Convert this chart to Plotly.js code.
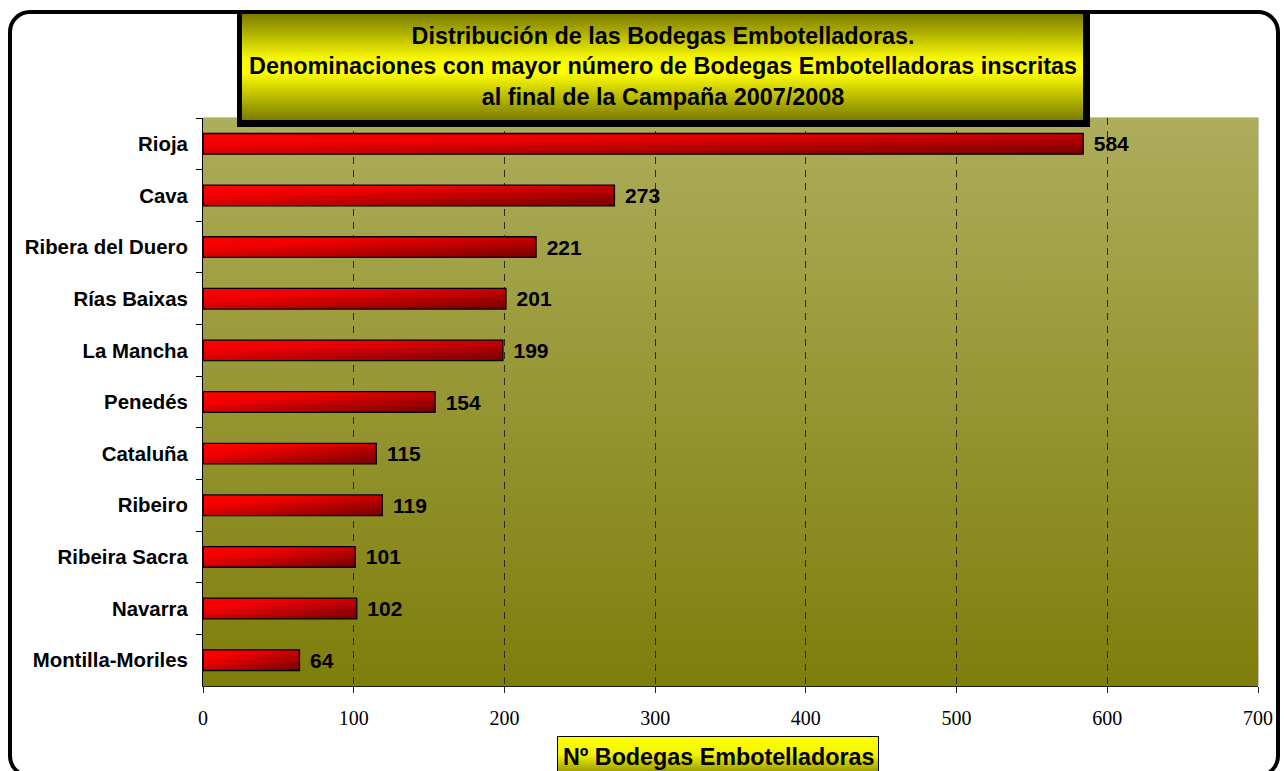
<!DOCTYPE html>
<html>
<head>
<meta charset="utf-8">
<script src="https://cdn.plot.ly/plotly-3.0.1.min.js"></script>
<style>
  html, body { margin: 0; padding: 0; background: #fff; overflow: hidden; }
  #chart { position: absolute; left: 0; top: 0; width: 1284px; height: 771px; }
  #frame {
    position: absolute; left: 8px; top: 10px; width: 1272px; height: 768px;
    box-sizing: border-box; border: 4px solid #000; border-radius: 22px;
    pointer-events: none;
  }
</style>
</head>
<body>
<div id="chart"></div>
<div id="frame"></div>
<script>
  // denominaciones, de arriba a abajo
  var denominaciones = [
    "Rioja",
    "Cava",
    "Ribera del Duero",
    "Rías Baixas",
    "La Mancha",
    "Penedés",
    "Cataluña",
    "Ribeiro",
    "Ribeira Sacra",
    "Navarra",
    "Montilla-Moriles"
  ];
  var bodegas = [584, 273, 221, 201, 199, 154, 115, 119, 101, 102, 64];
  var xTicks = [0, 100, 200, 300, 400, 500, 600, 700];

  var titulo = "Distribución de las Bodegas Embotelladoras.<br>" +
    "Denominaciones con mayor número de Bodegas Embotelladoras inscritas<br>" +
    "al final de la Campaña 2007/2008";
  var tituloEje = "Nº Bodegas Embotelladoras";

  // plot area in pixels: x 203..1258, y 118..686
  var px = function(x) { return (x - 203) / 1055; };
  var py = function(y) { return (686 - y) / 568; };

  function svgUri(w, h, body) {
    return "data:image/svg+xml;charset=utf-8," + encodeURIComponent(
      '<svg xmlns="http://www.w3.org/2000/svg" width="' + w + '" height="' + h +
      '" viewBox="0 0 ' + w + ' ' + h + '" preserveAspectRatio="none">' + body + '</svg>');
  }

  var plotBg = svgUri(100, 100,
    '<defs><linearGradient id="g" x1="0" y1="0" x2="0" y2="1">' +
    '<stop offset="0" stop-color="#adad5b"/><stop offset="1" stop-color="#7e7e0c"/>' +
    '</linearGradient></defs><rect width="100" height="100" fill="url(#g)"/>');

  var titleBox = svgUri(853, 117,
    '<defs><linearGradient id="g" x1="0" y1="0" x2="0" y2="1">' +
    '<stop offset="0" stop-color="#7b7b00"/><stop offset="0.42" stop-color="#f8f800"/>' +
    '<stop offset="0.55" stop-color="#ffff00"/>' +
    '<stop offset="1" stop-color="#7b7b00"/></linearGradient></defs>' +
    '<rect width="853" height="117" fill="#000"/>' +
    '<rect x="5" y="4" width="841" height="106" fill="url(#g)"/>');

  var axisBox = svgUri(322, 40,
    '<defs><linearGradient id="g" x1="0" y1="0" x2="0" y2="1">' +
    '<stop offset="0" stop-color="#ffff00"/><stop offset="0.45" stop-color="#f4f400"/>' +
    '<stop offset="1" stop-color="#8c8c00"/></linearGradient></defs>' +
    '<rect width="322" height="40" fill="#000"/>' +
    '<rect x="1" y="1" width="320" height="38" fill="url(#g)"/>');

  var trace = {
    type: "bar",
    orientation: "h",
    x: bodegas,
    y: denominaciones,
    width: 0.4,
    marker: { color: "#d80000", line: { color: "#000", width: 1.3 } },
    texttemplate: "\u00a0\u200a%{x}",
    textposition: "outside",
    constraintext: "none",
    cliponaxis: false,
    textfont: { family: "Liberation Sans, Arial", size: 21, color: "#000", weight: "bold" },
    hoverinfo: "x+y"
  };

  var layout = {
    width: 1284,
    height: 771,
    margin: { l: 203, r: 26, t: 118, b: 85, pad: 0 },
    paper_bgcolor: "#fff",
    plot_bgcolor: "rgba(0,0,0,0)",
    showlegend: false,
    bargap: 0.6,
    xaxis: {
      range: [0, 700],
      tickvals: xTicks,
      ticks: "outside",
      ticklen: 6,
      tickcolor: "#222",
      showline: true,
      linecolor: "#222",
      showgrid: true,
      gridcolor: "#2a2a10",
      griddash: "7px,6px",
      gridwidth: 1,
      zeroline: false,
      tickfont: { family: "Liberation Serif, Times New Roman", size: 20, color: "#000" },
      ticklabelstandoff: 8,
      fixedrange: true
    },
    yaxis: {
      type: "category",
      autorange: "reversed",
      tickson: "boundaries",
      ticks: "outside",
      ticklen: 6,
      tickcolor: "#000",
      showline: true,
      linecolor: "#000",
      showgrid: false,
      tickfont: { family: "Liberation Sans, Arial", size: 20.4, color: "#000", weight: "bold" },
      ticklabelstandoff: 10,
      fixedrange: true
    },
    shapes: [
      { type: "rect", xref: "paper", yref: "paper", x0: 0, x1: 1, y0: 0, y1: 1,
        line: { color: "#8a8a8a", width: 1 }, layer: "below" }
    ],
    images: [
      { source: plotBg, xref: "x domain", yref: "y domain", x: 0, y: 1, sizex: 1, sizey: 1,
        xanchor: "left", yanchor: "top", sizing: "stretch", layer: "below" },
      { source: titleBox, xref: "paper", yref: "paper", x: px(237), y: py(10),
        sizex: 853 / 1055, sizey: 117 / 568, xanchor: "left", yanchor: "top",
        sizing: "stretch", layer: "above" },
      { source: axisBox, xref: "paper", yref: "paper", x: px(557), y: py(736),
        sizex: 322 / 1055, sizey: 40 / 568, xanchor: "left", yanchor: "top",
        sizing: "stretch", layer: "above" }
    ],
    annotations: [
      { text: titulo, xref: "paper", yref: "paper", x: px(663), y: py(67),
        xanchor: "center", yanchor: "middle", showarrow: false,
        font: { family: "Liberation Sans, Arial", size: 23.4, color: "#000", weight: "bold" } },
      { text: tituloEje, xref: "paper", yref: "paper", x: px(718), y: py(757),
        xanchor: "center", yanchor: "middle", showarrow: false,
        font: { family: "Liberation Sans, Arial", size: 23.3, color: "#000", weight: "bold" } }
    ]
  };

  var config = { displayModeBar: false, staticPlot: true };

  var gd = document.getElementById("chart");
  Plotly.newPlot(gd, [trace], layout, config).then(function() {
    // red gradient on the bars, like the original
    var ns = "http://www.w3.org/2000/svg";
    var svg = gd.querySelector("svg.main-svg");
    var defs = svg.querySelector("defs") || svg.insertBefore(document.createElementNS(ns, "defs"), svg.firstChild);
    var grad = document.createElementNS(ns, "linearGradient");
    grad.setAttribute("id", "barGrad");
    grad.setAttribute("x1", "0"); grad.setAttribute("y1", "0");
    grad.setAttribute("x2", "1"); grad.setAttribute("y2", "1");
    [["0", "#ff0000"], ["0.3", "#f00000"], ["1", "#720000"]].forEach(function(s) {
      var st = document.createElementNS(ns, "stop");
      st.setAttribute("offset", s[0]);
      st.setAttribute("stop-color", s[1]);
      grad.appendChild(st);
    });
    defs.appendChild(grad);
    gd.querySelectorAll(".trace.bars .point path").forEach(function(p) {
      p.style.fill = "url(#barGrad)";
    });
  });
</script>
</body>
</html>
